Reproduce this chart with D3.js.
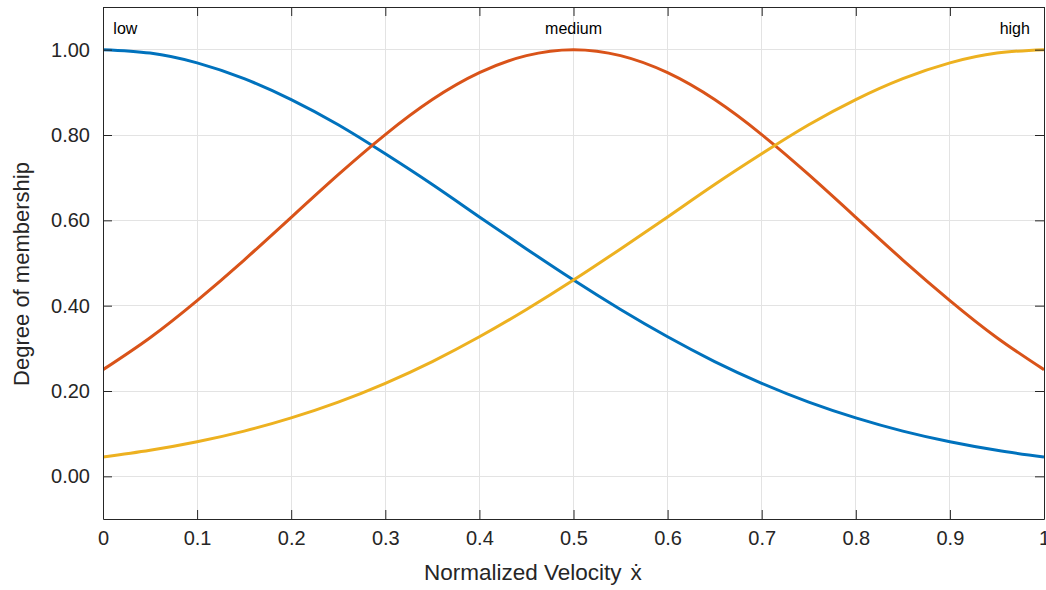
<!DOCTYPE html>
<html>
<head>
<meta charset="utf-8">
<script src="https://cdn.jsdelivr.net/npm/d3@7"></script>
<style>
  html, body { margin: 0; padding: 0; background: #fff; }
  svg text { font-family: "Liberation Sans", Arial, Helvetica, sans-serif; fill: #262626; }
</style>
</head>
<body>
<svg id="chart" width="1046" height="590"></svg>
<script>
// Sample positions along the normalized velocity axis
const xs = [0, 0.05, 0.1, 0.15, 0.2, 0.25, 0.3, 0.35, 0.4, 0.45, 0.5,
            0.55, 0.6, 0.65, 0.7, 0.75, 0.8, 0.85, 0.9, 0.95, 1];

// Membership degrees for each fuzzy set
const lowValues = [1.000, 0.992, 0.969, 0.932, 0.883, 0.824, 0.756, 0.684, 0.608, 0.533, 0.460,
                   0.391, 0.327, 0.269, 0.218, 0.174, 0.137, 0.106, 0.081, 0.061, 0.045];
const mediumValues = [0.250, 0.325, 0.412, 0.507, 0.607, 0.707, 0.801, 0.883, 0.946, 0.986, 1.000,
                      0.986, 0.946, 0.883, 0.801, 0.707, 0.607, 0.507, 0.412, 0.325, 0.250];
const highValues = [0.045, 0.061, 0.081, 0.106, 0.137, 0.174, 0.218, 0.269, 0.327, 0.391, 0.460,
                    0.533, 0.608, 0.684, 0.756, 0.824, 0.883, 0.932, 0.969, 0.992, 1.000];

const seriesNames = ["low", "medium", "high"];
const seriesColors = ["#0072BD", "#D95319", "#EDB120"];

const xTicks = [0, 0.1, 0.2, 0.3, 0.4, 0.5, 0.6, 0.7, 0.8, 0.9, 1];
const xTickLabels = ["0", "0.1", "0.2", "0.3", "0.4", "0.5", "0.6", "0.7", "0.8", "0.9", "1"];
const yTicks = [0, 0.2, 0.4, 0.6, 0.8, 1.0];
const yTickLabels = ["0.00", "0.20", "0.40", "0.60", "0.80", "1.00"];

const svg = d3.select("#chart");
const plotL = 103, plotR = 1044, plotT = 7, plotB = 519;

const x = d3.scaleLinear().domain([0, 1]).range([plotL, plotR]);
const y = d3.scaleLinear().domain([-0.1, 1.1]).range([plotB, plotT]);

// grid
const grid = svg.append("g");
grid.selectAll("line.gx").data(xTicks).join("line")
  .attr("class", "gx")
  .attr("x1", d => x(d)).attr("x2", d => x(d))
  .attr("y1", plotT).attr("y2", plotB)
  .attr("stroke", "#e3e3e3").attr("stroke-width", 1).attr("shape-rendering", "crispEdges");
grid.selectAll("line.gy").data(yTicks).join("line")
  .attr("class", "gy")
  .attr("x1", plotL).attr("x2", plotR)
  .attr("y1", d => y(d)).attr("y2", d => y(d))
  .attr("stroke", "#e3e3e3").attr("stroke-width", 1).attr("shape-rendering", "crispEdges");

// curves
const series = [lowValues, mediumValues, highValues];
const line = d3.line()
  .x((d, i) => x(xs[i]))
  .y(d => y(d))
  .curve(d3.curveNatural);

svg.append("defs").append("clipPath").attr("id", "plotClip")
  .append("rect").attr("x", plotL).attr("y", plotT).attr("width", plotR - plotL).attr("height", plotB - plotT);

svg.append("g").attr("clip-path", "url(#plotClip)")
  .selectAll("path").data(series).join("path")
  .attr("d", d => line(d))
  .attr("fill", "none")
  .attr("stroke", (d, i) => seriesColors[i])
  .attr("stroke-width", 3)
  .attr("stroke-linejoin", "round");

// axes (ticks pointing inward, mirrored on the opposite sides)
const fmtX = (d, i) => xTickLabels[i];
const fmtY = (d, i) => yTickLabels[i];
const axisStyle = g => {
  g.select(".domain").attr("stroke", "#262626");
  g.selectAll(".tick line").attr("stroke", "#262626");
  g.selectAll("text").attr("font-size", 20).attr("font-family", "Liberation Sans, Arial, sans-serif").attr("fill", "#262626");
};

svg.append("g").attr("transform", `translate(0,${plotB})`)
  .call(d3.axisBottom(x).tickValues(xTicks).tickFormat(fmtX).tickSizeInner(-9).tickSizeOuter(0).tickPadding(12))
  .call(axisStyle);
svg.append("g").attr("transform", `translate(0,${plotT})`)
  .call(d3.axisTop(x).tickValues(xTicks).tickFormat("").tickSizeInner(-9).tickSizeOuter(0))
  .call(axisStyle);
svg.append("g").attr("transform", `translate(${plotL},0)`)
  .call(d3.axisLeft(y).tickValues(yTicks).tickFormat(fmtY).tickSizeInner(-9).tickSizeOuter(0).tickPadding(13))
  .call(axisStyle);
svg.append("g").attr("transform", `translate(${plotR},0)`)
  .call(d3.axisRight(y).tickValues(yTicks).tickFormat("").tickSizeInner(-9).tickSizeOuter(0))
  .call(axisStyle);

// set names
const nameX = [0.011, 0.5, 0.985];
const nameAnchor = ["start", "middle", "end"];
svg.selectAll("text.setname").data(seriesNames).join("text")
  .attr("class", "setname")
  .attr("x", (d, i) => x(nameX[i]))
  .attr("y", 34)
  .attr("text-anchor", (d, i) => nameAnchor[i])
  .attr("font-size", 16)
  .style("fill", "#000")
  .text(d => d);

// axis titles
const xTitle = svg.append("text")
  .attr("x", 424).attr("y", 580)
  .attr("text-anchor", "start")
  .attr("font-size", 22.5);
xTitle.append("tspan").text("Normalized Velocity");
xTitle.append("tspan").attr("dx", 9).text("\u1E8B");

svg.append("text")
  .attr("transform", "translate(29,274) rotate(-90)")
  .attr("text-anchor", "middle")
  .attr("font-size", 22)
  .text("Degree of membership");
</script>
</body>
</html>
